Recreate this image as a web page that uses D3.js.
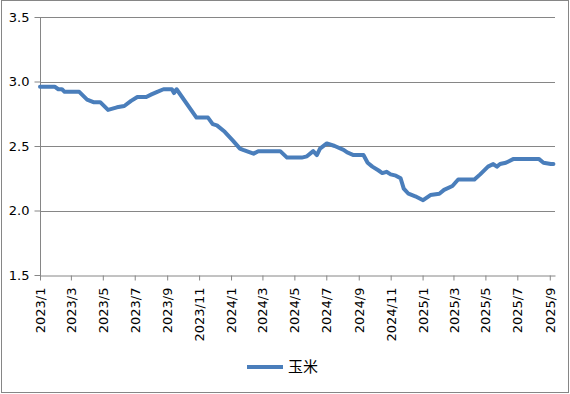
<!DOCTYPE html>
<html>
<head>
<meta charset="utf-8">
<script src="https://cdn.jsdelivr.net/npm/d3@7"></script>
<style>
  html, body { margin: 0; padding: 0; background: #fff; }
  svg { display: block; }
  text { font-family: "DejaVu Sans", Verdana, sans-serif; font-size: 13px; fill: #000; }
</style>
</head>
<body>
<svg id="chart"></svg>
<script>
// 玉米 price series
const dates = [
  '2023-01-01', '2023-01-29', '2023-02-05', '2023-02-12', '2023-02-17', '2023-03-17',
  '2023-04-01', '2023-04-13', '2023-04-26', '2023-05-11', '2023-05-28', '2023-06-11',
  '2023-06-24', '2023-07-06', '2023-07-23', '2023-08-02', '2023-08-13', '2023-08-25',
  '2023-09-10', '2023-09-14', '2023-09-19', '2023-10-27', '2023-11-18', '2023-11-27',
  '2023-12-05', '2023-12-20', '2024-01-05', '2024-01-18', '2024-01-24', '2024-02-13',
  '2024-02-22', '2024-04-04', '2024-04-17', '2024-05-15', '2024-05-25', '2024-06-06',
  '2024-06-13', '2024-06-19', '2024-07-02', '2024-07-17', '2024-08-03', '2024-08-10',
  '2024-08-22', '2024-09-10', '2024-09-18', '2024-09-27', '2024-10-09', '2024-10-16',
  '2024-10-24', '2024-11-01', '2024-11-11', '2024-11-20', '2024-11-26', '2024-12-05',
  '2024-12-18', '2025-01-02', '2025-01-16', '2025-02-02', '2025-02-11', '2025-02-27',
  '2025-03-10', '2025-04-10', '2025-04-21', '2025-05-06', '2025-05-16', '2025-05-23',
  '2025-05-29', '2025-06-09', '2025-06-14', '2025-06-24', '2025-08-11', '2025-08-20',
  '2025-09-03', '2025-09-08'
];
const corn = [
  2.96, 2.96, 2.94, 2.94, 2.92, 2.92,
  2.86, 2.84, 2.84, 2.78, 2.80, 2.81,
  2.85, 2.88, 2.88, 2.90, 2.92, 2.94,
  2.94, 2.91, 2.94, 2.72, 2.72, 2.67,
  2.66, 2.61, 2.54, 2.48, 2.47, 2.44,
  2.46, 2.46, 2.41, 2.41, 2.42, 2.46,
  2.43, 2.48, 2.52, 2.50, 2.47, 2.45,
  2.43, 2.43, 2.37, 2.34, 2.31, 2.29,
  2.30, 2.28, 2.27, 2.25, 2.17, 2.13,
  2.11, 2.08, 2.12, 2.13, 2.16, 2.19,
  2.24, 2.24, 2.28, 2.34, 2.36, 2.34,
  2.36, 2.37, 2.38, 2.40, 2.40, 2.37,
  2.36, 2.36
];
const seriesName = '玉米';
const yTicks = [1.5, 2.0, 2.5, 3.0, 3.5];
const xStart = '2023-01-01';
const xEnd = '2025-09-11';

const width = 570;
const height = 394;
const margin = { top: 17, right: 15, bottom: 119, left: 40 };
const lineColor = '#4a7ebb';
const axisColor = '#868686';

const parse = d3.timeParse('%Y-%m-%d');
const data = dates.map((d, i) => ({ date: parse(d), value: corn[i] }));

const svg = d3.select('#chart')
  .attr('width', width)
  .attr('height', height);

// outer chart border
svg.append('rect')
  .attr('x', 1.5)
  .attr('y', 0.5)
  .attr('width', width - 3)
  .attr('height', height - 2)
  .attr('fill', '#fff')
  .attr('stroke', axisColor);

const x = d3.scaleTime()
  .domain([parse(xStart), parse(xEnd)])
  .range([margin.left, width - margin.right]);

const y = d3.scaleLinear()
  .domain([1.5, 3.5])
  .range([height - margin.bottom, margin.top]);

const xTickDates = d3.timeMonth.every(2).range(parse(xStart), parse(xEnd));

// gridlines
svg.append('g')
  .selectAll('line')
  .data(yTicks.slice(1))
  .enter()
  .append('line')
  .attr('x1', margin.left)
  .attr('x2', width - margin.right)
  .attr('y1', (d) => Math.round(y(d)) + 0.5)
  .attr('y2', (d) => Math.round(y(d)) + 0.5)
  .attr('stroke', axisColor);

// y axis
const yAxis = svg.append('g')
  .attr('transform', `translate(${margin.left + 0.5},0)`)
  .call(d3.axisLeft(y).tickValues(yTicks).tickFormat(d3.format('.1f')).tickSize(6).tickPadding(5));
yAxis.selectAll('path, line').attr('stroke', axisColor);
yAxis.select('.domain').attr('d', `M0,${margin.top}V${height - margin.bottom + 5}`);
yAxis.selectAll('text').style('font-size', '13px').style('font-family', 'DejaVu Sans');

// x axis
const xAxis = svg.append('g')
  .attr('transform', `translate(0,${Math.round(y(1.5)) + 0.5})`)
  .call(d3.axisBottom(x).tickValues(xTickDates).tickFormat(d3.timeFormat('%Y/%-m')).tickSize(5).tickSizeOuter(0));
xAxis.selectAll('path, line').attr('stroke', axisColor);
xAxis.selectAll('text')
  .style('font-size', '13px')
  .style('font-family', 'DejaVu Sans')
  .attr('text-anchor', 'end')
  .attr('transform', 'rotate(-90)')
  .attr('x', -12)
  .attr('y', 0)
  .attr('dy', '0.35em');

// line
const line = d3.line()
  .x((d) => x(d.date))
  .y((d) => y(d.value));

svg.append('path')
  .datum(data)
  .attr('fill', 'none')
  .attr('stroke', lineColor)
  .attr('stroke-width', 4)
  .attr('stroke-linejoin', 'round')
  .attr('stroke-linecap', 'round')
  .attr('d', line);

// legend
const legend = svg.append('g').attr('transform', 'translate(247,367)');
legend.append('line')
  .attr('x1', 0)
  .attr('x2', 36)
  .attr('stroke', lineColor)
  .attr('stroke-width', 4);
legend.append('text')
  .attr('x', 41)
  .attr('dy', '0.35em')
  .style('font-family', '"Noto Sans CJK SC", sans-serif')
  .style('font-size', '15px')
  .text(seriesName);
</script>
</body>
</html>
